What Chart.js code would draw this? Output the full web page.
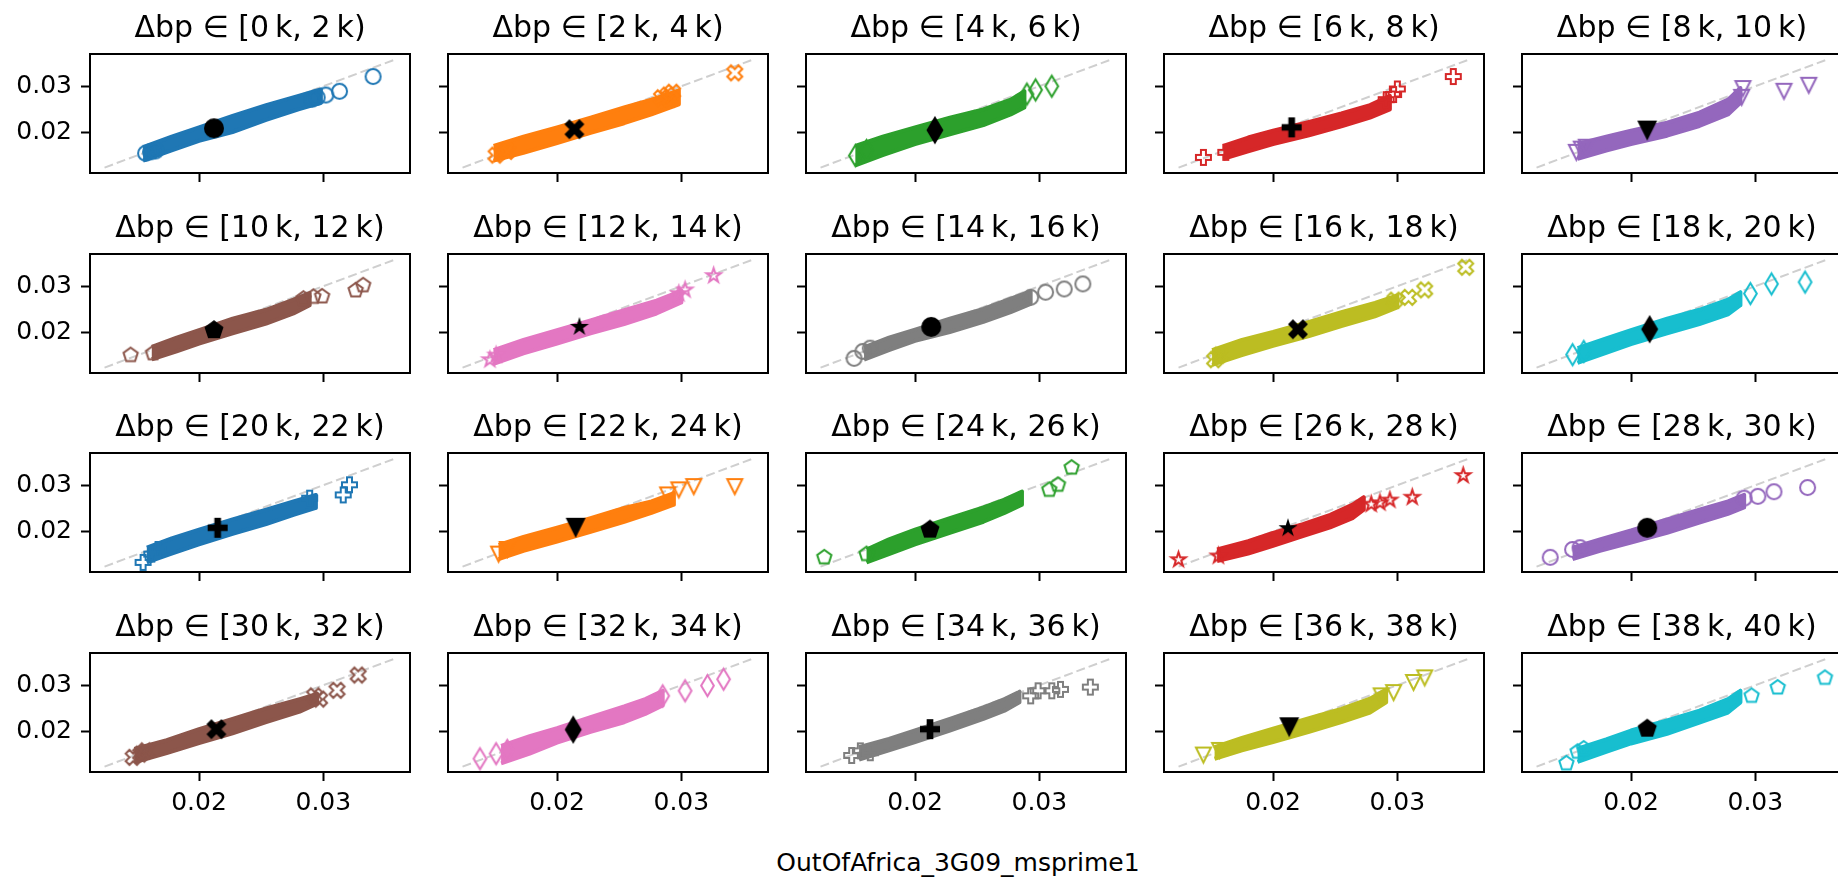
<!DOCTYPE html>
<html>
<head>
<meta charset="utf-8">
<script src="https://cdn.jsdelivr.net/npm/chart.js@4.4.1/dist/chart.umd.min.js"></script>
<style>
  body { margin: 0; background: #fff; width: 1838px; height: 878px; overflow: hidden; position: relative; font-family: "DejaVu Sans"; }
  canvas { position: absolute; }
  #xlabel { position: absolute; left: 458px; width: 1000px; top: 849px; text-align: center; font-size: 25px; line-height: 28px; color: #000; }
</style>
</head>
<body>
<div id="xlabel">OutOfAfrica_3G09_msprime1</div>
<script>
// panel titles (bins of Δbp)
const binTitles = [
  "[0\u2009k, 2\u2009k)", "[2\u2009k, 4\u2009k)", "[4\u2009k, 6\u2009k)", "[6\u2009k, 8\u2009k)", "[8\u2009k, 10\u2009k)",
  "[10\u2009k, 12\u2009k)", "[12\u2009k, 14\u2009k)", "[14\u2009k, 16\u2009k)", "[16\u2009k, 18\u2009k)", "[18\u2009k, 20\u2009k)",
  "[20\u2009k, 22\u2009k)", "[22\u2009k, 24\u2009k)", "[24\u2009k, 26\u2009k)", "[26\u2009k, 28\u2009k)", "[28\u2009k, 30\u2009k)",
  "[30\u2009k, 32\u2009k)", "[32\u2009k, 34\u2009k)", "[34\u2009k, 36\u2009k)", "[36\u2009k, 38\u2009k)", "[38\u2009k, 40\u2009k)"
];
const palette = ["#1f77b4", "#ff7f0e", "#2ca02c", "#d62728", "#9467bd", "#8c564b", "#e377c2", "#7f7f7f", "#bcbd22", "#17becf"];
const shapes = ["o", "X", "d", "P", "v", "p", "*"];

const xTicks = [0.02, 0.03];
const yTicks = [0.02, 0.03];
const axisRange = [0.01123, 0.03697];
const diagLine = [0.0124, 0.0359];

// dense cloud of each panel: x samples with top / bottom of the band
const bandX = [
  [0.0155, 0.0178, 0.0200, 0.0227, 0.0254, 0.0280, 0.0298],
  [0.0149, 0.0173, 0.0200, 0.0227, 0.0254, 0.0276, 0.0298],
  [0.0152, 0.0174, 0.0200, 0.0228, 0.0255, 0.0277, 0.0288],
  [0.0160, 0.0180, 0.0200, 0.0229, 0.0255, 0.0278, 0.0294],
  [0.0157, 0.0180, 0.0200, 0.0229, 0.0255, 0.0278, 0.0288],
  [0.0162, 0.0182, 0.0200, 0.0227, 0.0254, 0.0276, 0.0289],
  [0.0149, 0.0173, 0.0200, 0.0227, 0.0254, 0.0280, 0.0300],
  [0.0159, 0.0179, 0.0200, 0.0228, 0.0255, 0.0277, 0.0293],
  [0.0151, 0.0175, 0.0200, 0.0229, 0.0255, 0.0282, 0.0300],
  [0.0157, 0.0180, 0.0200, 0.0229, 0.0255, 0.0278, 0.0288],
  [0.0158, 0.0178, 0.0200, 0.0227, 0.0254, 0.0276, 0.0294],
  [0.0153, 0.0173, 0.0200, 0.0227, 0.0254, 0.0276, 0.0294],
  [0.0161, 0.0179, 0.0200, 0.0228, 0.0255, 0.0272, 0.0286],
  [0.0155, 0.0180, 0.0200, 0.0224, 0.0246, 0.0264, 0.0273],
  [0.0153, 0.0175, 0.0200, 0.0229, 0.0255, 0.0278, 0.0291],
  [0.0148, 0.0174, 0.0200, 0.0227, 0.0254, 0.0281, 0.0295],
  [0.0155, 0.0178, 0.0200, 0.0227, 0.0254, 0.0271, 0.0285],
  [0.0155, 0.0179, 0.0200, 0.0228, 0.0255, 0.0272, 0.0284],
  [0.0153, 0.0175, 0.0200, 0.0229, 0.0255, 0.0278, 0.0291],
  [0.0157, 0.0180, 0.0200, 0.0229, 0.0255, 0.0278, 0.0288]
];
const bandHi = [
  [0.0168, 0.0191, 0.0211, 0.0236, 0.0259, 0.0279, 0.0293],
  [0.0171, 0.0191, 0.0211, 0.0232, 0.0254, 0.0271, 0.0291],
  [0.0171, 0.0191, 0.0211, 0.0232, 0.0250, 0.0271, 0.0289],
  [0.0171, 0.0189, 0.0204, 0.0223, 0.0241, 0.0259, 0.0279],
  [0.0175, 0.0191, 0.0204, 0.0221, 0.0243, 0.0271, 0.0296],
  [0.0169, 0.0189, 0.0205, 0.0230, 0.0249, 0.0271, 0.0285],
  [0.0162, 0.0184, 0.0205, 0.0226, 0.0248, 0.0269, 0.0290],
  [0.0168, 0.0189, 0.0206, 0.0230, 0.0251, 0.0273, 0.0289],
  [0.0162, 0.0184, 0.0201, 0.0223, 0.0244, 0.0264, 0.0280],
  [0.0166, 0.0187, 0.0205, 0.0230, 0.0249, 0.0271, 0.0287],
  [0.0165, 0.0185, 0.0204, 0.0226, 0.0247, 0.0265, 0.0279],
  [0.0171, 0.0188, 0.0208, 0.0229, 0.0251, 0.0265, 0.0283],
  [0.0161, 0.0183, 0.0204, 0.0229, 0.0252, 0.0269, 0.0286],
  [0.0161, 0.0179, 0.0197, 0.0216, 0.0236, 0.0258, 0.0274],
  [0.0165, 0.0183, 0.0202, 0.0226, 0.0247, 0.0265, 0.0279],
  [0.0162, 0.0181, 0.0205, 0.0227, 0.0250, 0.0270, 0.0281],
  [0.0169, 0.0190, 0.0207, 0.0231, 0.0254, 0.0270, 0.0288],
  [0.0166, 0.0184, 0.0202, 0.0227, 0.0252, 0.0270, 0.0286],
  [0.0166, 0.0186, 0.0206, 0.0229, 0.0249, 0.0271, 0.0291],
  [0.0163, 0.0183, 0.0202, 0.0224, 0.0245, 0.0270, 0.0288]
];
const bandLo = [
  [0.0139, 0.0161, 0.0182, 0.0201, 0.0227, 0.0250, 0.0264],
  [0.0139, 0.0156, 0.0177, 0.0199, 0.0220, 0.0239, 0.0261],
  [0.0129, 0.0151, 0.0175, 0.0196, 0.0216, 0.0239, 0.0254],
  [0.0143, 0.0159, 0.0175, 0.0194, 0.0213, 0.0232, 0.0250],
  [0.0143, 0.0161, 0.0175, 0.0193, 0.0214, 0.0239, 0.0264],
  [0.0142, 0.0159, 0.0176, 0.0198, 0.0219, 0.0241, 0.0259],
  [0.0132, 0.0155, 0.0176, 0.0198, 0.0218, 0.0241, 0.0265],
  [0.0141, 0.0162, 0.0182, 0.0201, 0.0223, 0.0244, 0.0262],
  [0.0130, 0.0151, 0.0171, 0.0192, 0.0214, 0.0235, 0.0254],
  [0.0134, 0.0156, 0.0175, 0.0198, 0.0218, 0.0239, 0.0259],
  [0.0133, 0.0152, 0.0172, 0.0195, 0.0216, 0.0236, 0.0251],
  [0.0140, 0.0158, 0.0178, 0.0199, 0.0221, 0.0240, 0.0258],
  [0.0133, 0.0151, 0.0172, 0.0197, 0.0221, 0.0240, 0.0258],
  [0.0136, 0.0152, 0.0169, 0.0190, 0.0209, 0.0229, 0.0247],
  [0.0140, 0.0158, 0.0176, 0.0197, 0.0219, 0.0238, 0.0252],
  [0.0133, 0.0153, 0.0175, 0.0196, 0.0220, 0.0243, 0.0260],
  [0.0131, 0.0152, 0.0176, 0.0199, 0.0220, 0.0238, 0.0256],
  [0.0139, 0.0159, 0.0177, 0.0202, 0.0227, 0.0245, 0.0263],
  [0.0141, 0.0159, 0.0177, 0.0199, 0.0220, 0.0241, 0.0263],
  [0.0134, 0.0156, 0.0174, 0.0195, 0.0219, 0.0241, 0.0263]
];

// hollow outlier markers
const outX = [
  [0.0157, 0.0161, 0.0165, 0.0291, 0.0295, 0.0302, 0.0313, 0.0340],
  [0.0151, 0.0160, 0.0284, 0.0289, 0.0293, 0.0291, 0.0343],
  [0.0152, 0.0161, 0.0290, 0.0297, 0.0310],
  [0.0144, 0.0162, 0.0291, 0.0297, 0.0300, 0.0345],
  [0.0156, 0.0160, 0.0164, 0.0289, 0.0290, 0.0323, 0.0343],
  [0.0145, 0.0163, 0.0284, 0.0292, 0.0299, 0.0326, 0.0332],
  [0.0146, 0.0151, 0.0298, 0.0303, 0.0326],
  [0.0151, 0.0158, 0.0164, 0.0293, 0.0305, 0.0320, 0.0335],
  [0.0153, 0.0157, 0.0298, 0.0309, 0.0322, 0.0355],
  [0.0153, 0.0162, 0.0296, 0.0313, 0.0340],
  [0.0155, 0.0162, 0.0167, 0.0289, 0.0316, 0.0321],
  [0.0153, 0.0160, 0.0289, 0.0298, 0.0310, 0.0343],
  [0.0127, 0.0161, 0.0308, 0.0315, 0.0326],
  [0.0124, 0.0156, 0.0279, 0.0286, 0.0294, 0.0312, 0.0353],
  [0.0135, 0.0153, 0.0159, 0.0291, 0.0302, 0.0315, 0.0342],
  [0.0147, 0.0153, 0.0157, 0.0293, 0.0297, 0.0311, 0.0328],
  [0.0138, 0.0151, 0.0160, 0.0285, 0.0303, 0.0321, 0.0334],
  [0.0149, 0.0156, 0.0164, 0.0293, 0.0299, 0.0310, 0.0317, 0.0341],
  [0.0144, 0.0157, 0.0287, 0.0297, 0.0313, 0.0322],
  [0.0148, 0.0157, 0.0162, 0.0297, 0.0318, 0.0356]
];
const outY = [
  [0.0155, 0.0158, 0.0160, 0.0272, 0.0276, 0.0281, 0.0289, 0.0321],
  [0.0151, 0.0159, 0.0275, 0.0281, 0.0287, 0.0272, 0.0329],
  [0.0150, 0.0161, 0.0283, 0.0292, 0.0300],
  [0.0146, 0.0157, 0.0271, 0.0282, 0.0294, 0.0321],
  [0.0157, 0.0164, 0.0168, 0.0276, 0.0295, 0.0289, 0.0302],
  [0.0151, 0.0155, 0.0273, 0.0277, 0.0278, 0.0291, 0.0302],
  [0.0141, 0.0151, 0.0284, 0.0292, 0.0323],
  [0.0144, 0.0159, 0.0166, 0.0276, 0.0287, 0.0294, 0.0305],
  [0.0141, 0.0151, 0.0270, 0.0276, 0.0292, 0.0341],
  [0.0152, 0.0159, 0.0284, 0.0305, 0.0309],
  [0.0133, 0.0151, 0.0161, 0.0272, 0.0279, 0.0301],
  [0.0151, 0.0161, 0.0279, 0.0290, 0.0297, 0.0297],
  [0.0144, 0.0151, 0.0290, 0.0301, 0.0338],
  [0.0139, 0.0147, 0.0259, 0.0262, 0.0268, 0.0274, 0.0321],
  [0.0144, 0.0161, 0.0165, 0.0272, 0.0276, 0.0286, 0.0295],
  [0.0144, 0.0151, 0.0158, 0.0277, 0.0270, 0.0289, 0.0322],
  [0.0141, 0.0152, 0.0159, 0.0277, 0.0288, 0.0299, 0.0313],
  [0.0148, 0.0158, 0.0154, 0.0277, 0.0288, 0.0288, 0.0291, 0.0296],
  [0.0149, 0.0159, 0.0277, 0.0284, 0.0306, 0.0316],
  [0.0131, 0.0156, 0.0163, 0.0277, 0.0295, 0.0316]
];

// black marker (mean) of each panel
const meanX = [0.0212, 0.0214, 0.0216, 0.0215, 0.0213, 0.0212, 0.0218, 0.0213, 0.0220, 0.0215,
               0.0215, 0.0215, 0.0212, 0.0212, 0.0213, 0.0214, 0.0213, 0.0212, 0.0213, 0.0213];
const meanY = [0.0209, 0.0207, 0.0205, 0.0211, 0.0204, 0.0205, 0.0212, 0.0212, 0.0207, 0.0207,
               0.0208, 0.0208, 0.0204, 0.0207, 0.0208, 0.0205, 0.0204, 0.0205, 0.0209, 0.0206];

// matplotlib-like marker shapes drawn on small canvases
function polyPath(c, pts, k) {
  pts.forEach((p, i) => (i ? c.lineTo(p[0] * k, p[1] * k) : c.moveTo(p[0] * k, p[1] * k)));
  c.closePath();
}
function markerPath(c, shape, s) {
  const h = s / 2;
  c.beginPath();
  if (shape === "o") {
    c.arc(0, 0, h, 0, 2 * Math.PI);
  } else if (shape === "X") {
    polyPath(c, [[-1, -2], [0, -1], [1, -2], [2, -1], [1, 0], [2, 1], [1, 2], [0, 1], [-1, 2], [-2, 1], [-1, 0], [-2, -1]], s / 4);
  } else if (shape === "P") {
    polyPath(c, [[-1, -3], [1, -3], [1, -1], [3, -1], [3, 1], [1, 1], [1, 3], [-1, 3], [-1, 1], [-3, 1], [-3, -1], [-1, -1]], s / 6);
  } else if (shape === "d") {
    polyPath(c, [[0, -0.7071], [0.4243, 0], [0, 0.7071], [-0.4243, 0]], s);
  } else if (shape === "v") {
    polyPath(c, [[-0.5, -0.5], [0.5, -0.5], [0, 0.5]], s);
  } else if (shape === "p") {
    const pts = [];
    for (let k = 0; k < 5; k++) {
      const a = -Math.PI / 2 + (k * 2 * Math.PI) / 5;
      pts.push([0.5 * Math.cos(a), 0.5 * Math.sin(a)]);
    }
    polyPath(c, pts, s);
  } else if (shape === "*") {
    const pts = [];
    for (let k = 0; k < 10; k++) {
      const a = -Math.PI / 2 + (k * Math.PI) / 5;
      const r = k % 2 ? 0.5 * 0.381966 : 0.5;
      pts.push([r * Math.cos(a), r * Math.sin(a)]);
    }
    polyPath(c, pts, s);
  }
}
function makeMarker(shape, s, fill, stroke, lw) {
  const cv = document.createElement("canvas");
  const n = Math.ceil(1.5 * s + 2 * lw + 2);
  cv.width = n;
  cv.height = n;
  const c = cv.getContext("2d");
  c.translate(n / 2, n / 2);
  markerPath(c, shape, s);
  if (fill) { c.fillStyle = fill; c.fill(); }
  if (stroke) { c.strokeStyle = stroke; c.lineWidth = lw; c.lineJoin = "miter"; c.stroke(); }
  return cv;
}

// title above each panel + the full box around the plot area
const panelDecor = {
  id: "panelDecor",
  afterDraw(chart, args, opts) {
    const { ctx, chartArea } = chart;
    ctx.save();
    ctx.strokeStyle = "#000";
    ctx.lineWidth = 2;
    ctx.strokeRect(chartArea.left, chartArea.top, chartArea.right - chartArea.left, chartArea.bottom - chartArea.top);
    ctx.fillStyle = "#000";
    ctx.font = '30px "DejaVu Sans"';
    ctx.textAlign = "center";
    ctx.textBaseline = "alphabetic";
    ctx.fillText(opts.text, (chartArea.left + chartArea.right) / 2, chartArea.top - 17);
    ctx.restore();
  }
};

const panelLeft = 90, panelTop = 54, panelW = 320, panelH = 119;
const colStep = 358, rowTops = [54, 254, 453, 653];

for (let i = 0; i < 20; i++) {
  const row = Math.floor(i / 5), col = i % 5;
  const color = palette[i % 10];
  const shape = shapes[i % 7];

  const cv = document.createElement("canvas");
  cv.width = panelLeft + panelW + 8;
  cv.height = panelTop + panelH + 60;
  cv.style.left = (col * colStep) + "px";
  cv.style.top = (rowTops[row] - panelTop) + "px";
  document.body.appendChild(cv);

  // outline of the cloud: top edge left->right, bottom edge right->left
  const band = bandX[i].map((x, k) => ({ x: x, y: bandHi[i][k] }))
    .concat(bandX[i].map((x, k) => ({ x: x, y: bandLo[i][k] })).reverse());
  const outliers = outX[i].map((x, k) => ({ x: x, y: outY[i][k] }));

  new Chart(cv, {
    type: "line",
    data: {
      datasets: [
        {
          data: [{ x: diagLine[0], y: diagLine[0] }, { x: diagLine[1], y: diagLine[1] }],
          borderColor: "#cfcfcf",
          borderWidth: 2,
          borderDash: [9, 4],
          pointRadius: 0,
          fill: false,
          order: 4
        },
        {
          data: band,
          borderColor: color,
          backgroundColor: color,
          borderWidth: 4,
          borderJoinStyle: "round",
          pointRadius: 0,
          tension: 0,
          fill: "shape",
          order: 3
        },
        {
          data: outliers,
          showLine: false,
          pointStyle: makeMarker(shape, 15, null, color, 2),
          pointRadius: 6,
          order: 2
        },
        {
          data: [{ x: meanX[i], y: meanY[i] }],
          showLine: false,
          pointStyle: makeMarker(shape, 20, "#000", null, 0),
          pointRadius: 6,
          order: 1
        }
      ]
    },
    options: {
      responsive: false,
      animation: false,
      devicePixelRatio: 1,
      layout: { padding: { top: panelTop, right: 8, left: 0, bottom: 0 } },
      plugins: {
        legend: { display: false },
        tooltip: { enabled: false },
        panelDecor: { text: "\u0394bp \u2208 " + binTitles[i] }
      },
      scales: {
        x: {
          type: "linear",
          min: axisRange[0],
          max: axisRange[1],
          afterBuildTicks: (s) => { s.ticks = xTicks.map((v) => ({ value: v })); },
          afterFit: (s) => { s.height = 60; },
          border: { display: false },
          grid: { drawOnChartArea: false, drawTicks: true, tickLength: 9, tickWidth: 2, tickColor: "#000" },
          ticks: {
            display: row === 3,
            color: "#000",
            padding: 7,
            maxRotation: 0,
            font: { family: "DejaVu Sans", size: 25 },
            callback: (v) => v.toFixed(2)
          }
        },
        y: {
          type: "linear",
          min: axisRange[0],
          max: axisRange[1],
          afterBuildTicks: (s) => { s.ticks = yTicks.map((v) => ({ value: v })); },
          afterFit: (s) => { s.width = panelLeft; },
          border: { display: false },
          grid: { drawOnChartArea: false, drawTicks: true, tickLength: 9, tickWidth: 2, tickColor: "#000" },
          ticks: {
            display: col === 0,
            color: "#000",
            padding: 9,
            font: { family: "DejaVu Sans", size: 25 },
            callback: (v) => v.toFixed(2)
          }
        }
      }
    },
    plugins: [panelDecor]
  });
}
</script>
</body>
</html>
